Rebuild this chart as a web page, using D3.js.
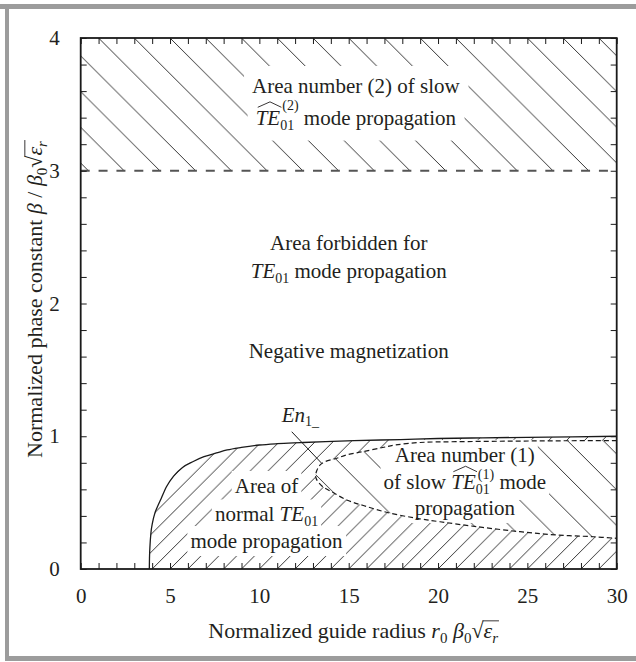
<!DOCTYPE html>
<html>
<head>
<meta charset="utf-8">
<script src="https://cdn.jsdelivr.net/npm/d3@7"></script>
<style>
  html, body { margin: 0; padding: 0; background: #fff; }
  svg { display: block; font-family: "Liberation Serif", "Times New Roman", serif; }
  svg text { fill: #231f20; white-space: pre; }
</style>
</head>
<body>
<svg id="chart" width="636" height="662"></svg>
<script>
// ---- data -------------------------------------------------------------
const xTickLabels = [0, 5, 10, 15, 20, 25, 30];
const yTickLabels = [0, 1, 2, 3, 4];

// cutoff curve of the normal TE01 mode (solid)
const cutoffX = [3.84, 3.85, 3.88, 3.93, 4.02, 4.15, 4.3, 4.5, 4.8, 5.2, 5.7, 6.3, 6.9, 7.6, 8.2, 9, 10, 11, 12.3, 13.7, 15.3, 17.9, 20, 22.5, 25, 27.5, 30];
const cutoffY = [0, 0.08, 0.18, 0.27, 0.35, 0.42, 0.47, 0.53, 0.62, 0.70, 0.765, 0.81, 0.846, 0.874, 0.897, 0.916, 0.934, 0.944, 0.952, 0.96, 0.967, 0.975, 0.983, 0.988, 0.992, 0.995, 1.0];

// boundary of slow-mode area (1): upper branch (right to left), lower branch (left to right)
const slowUpperX = [30, 27, 24, 21, 19, 17.6, 16.9, 15.8, 14.9, 14.33, 13.67, 13.39, 13.21, 13.15];
const slowUpperY = [0.967, 0.966, 0.963, 0.959, 0.953, 0.934, 0.915, 0.884, 0.86, 0.834, 0.808, 0.783, 0.74, 0.70];
const slowLowerX = [13.2, 13.5, 14.05, 14.89, 15.82, 17.22, 18.81, 20.11, 22.16, 24.59, 26.64, 28.69, 30];
const slowLowerY = [0.675, 0.625, 0.582, 0.52, 0.478, 0.424, 0.382, 0.356, 0.319, 0.281, 0.256, 0.243, 0.231];

// lower edge of slow-mode area (2) and top of the chart
const area2Bottom = 3;
const area2Top = 4;

// leader line for the En1 label
const enLeaderX = [11.81, 13.49];
const enLeaderY = [1.034, 0.796];

// ---- setup ------------------------------------------------------------
const FS = 21;
const svg = d3.select("#chart");
const x = d3.scaleLinear().domain([0, 30]).range([80.7, 616.7]);
const y = d3.scaleLinear().domain([0, 4]).range([569, 38]);

const defs = svg.append("defs");
defs.append("clipPath").attr("id", "plotClip")
  .append("rect")
  .attr("x", x(0)).attr("y", y(4))
  .attr("width", x(30) - x(0)).attr("height", y(0) - y(4));

// diagonal hatch patterns anchored on data points
function hatch(id, period, dir, ox, oy) {
  const P = period;
  const d = dir === "back"
    ? `M0,0L${P},${P}M${-P / 2},${P / 2}L${P / 2},${1.5 * P}M${P / 2},${-P / 2}L${1.5 * P},${P / 2}`
    : `M0,${P}L${P},0M${-P / 2},${P / 2}L${P / 2},${-P / 2}M${P / 2},${1.5 * P}L${1.5 * P},${P / 2}`;
  defs.append("pattern").attr("id", id)
    .attr("patternUnits", "userSpaceOnUse")
    .attr("x", ox).attr("y", oy)
    .attr("width", P).attr("height", P)
    .append("path").attr("d", d)
    .attr("fill", "none").attr("stroke", "#2a2a2a").attr("stroke-width", 0.95);
}
const unit = x(1) - x(0);
hatch("hatchNormal", unit, "fwd", x(0), y(0));
hatch("hatchSlow2", 2 * unit, "back", x(1), y(4));
hatch("hatchSlow1", 2 * unit, "back", x(1), y(1));

// ---- frame of the figure ---------------------------------------------
svg.append("rect").attr("x", 0).attr("y", 4).attr("width", 636).attr("height", 5).attr("fill", "#9c9c9c");
svg.append("rect").attr("x", 5).attr("y", 4).attr("width", 4).attr("height", 657).attr("fill", "#9c9c9c");
svg.append("rect").attr("x", 5).attr("y", 656).attr("width", 631).attr("height", 5).attr("fill", "#9c9c9c");

// ---- layers -----------------------------------------------------------
const regionLayer = svg.append("g").attr("clip-path", "url(#plotClip)");
const maskLayer = svg.append("g");
const curveLayer = svg.append("g").attr("clip-path", "url(#plotClip)");
const axisLayer = svg.append("g");
const textLayer = svg.append("g");

// ---- regions ----------------------------------------------------------
const cutoff = cutoffX.map((v, i) => [v, cutoffY[i]]);
const slowUpper = slowUpperX.map((v, i) => [v, slowUpperY[i]]);
const slowLower = slowLowerX.map((v, i) => [v, slowLowerY[i]]);
const slowLoop = slowUpper.concat(slowLower);

// slow-mode area (2)
regionLayer.append("rect")
  .attr("x", x(0)).attr("y", y(area2Top))
  .attr("width", x(30) - x(0)).attr("height", y(area2Bottom) - y(area2Top))
  .attr("fill", "url(#hatchSlow2)");

// normal TE01 area below the cutoff curve
const areaGen = d3.area().x(d => x(d[0])).y0(y(0)).y1(d => y(d[1])).curve(d3.curveMonotoneX);
regionLayer.append("path").datum(cutoff).attr("d", areaGen).attr("fill", "url(#hatchNormal)");

// slow-mode area (1)
const loopGen = d3.line().x(d => x(d[0])).y(d => y(d[1])).curve(d3.curveCatmullRom.alpha(0.5));
regionLayer.append("path").attr("d", loopGen(slowLoop) + "Z").attr("fill", "#fff");
regionLayer.append("path").attr("d", loopGen(slowLoop) + "Z").attr("fill", "url(#hatchSlow1)");

// ---- curves -----------------------------------------------------------
const lineGen = d3.line().x(d => x(d[0])).y(d => y(d[1])).curve(d3.curveMonotoneX);
curveLayer.append("path").datum(cutoff).attr("d", lineGen)
  .attr("fill", "none").attr("stroke", "#1a1a1a").attr("stroke-width", 1.3);
curveLayer.append("path").datum(slowLoop).attr("d", loopGen)
  .attr("fill", "none").attr("stroke", "#1a1a1a").attr("stroke-width", 1.2)
  .attr("stroke-dasharray", "5,3");
curveLayer.append("line")
  .attr("x1", x(0)).attr("x2", x(30)).attr("y1", y(area2Bottom)).attr("y2", y(area2Bottom))
  .attr("stroke", "#555").attr("stroke-width", 1.8).attr("stroke-dasharray", "9,8.87");

// ---- axes -------------------------------------------------------------
const xMinor = d3.range(0, 31, 1);
const yMinor = d3.range(0, 21, 1).map(v => v * 0.2);
function tickAxis(axis, tx, ty) {
  const g = axisLayer.append("g").attr("transform", `translate(${tx},${ty})`).call(axis);
  g.attr("font-family", null).attr("font-size", null);
  g.select(".domain").remove();
  g.selectAll(".tick line").attr("stroke", "#1a1a1a").attr("stroke-width", 1);
  g.selectAll(".tick text").style("font-size", FS + "px").attr("fill", "#231f20");
  return g;
}
tickAxis(d3.axisBottom(x).tickValues(xMinor).tickSize(-6).tickFormat(""), 0, y(0));
tickAxis(d3.axisTop(x).tickValues(xMinor).tickSize(-6).tickFormat(""), 0, y(4));
tickAxis(d3.axisLeft(y).tickValues(yMinor).tickSize(-6).tickFormat(""), x(0), 0);
tickAxis(d3.axisRight(y).tickValues(yMinor).tickSize(-6).tickFormat(""), x(30), 0);

tickAxis(d3.axisBottom(x).tickValues(xTickLabels).tickSize(0).tickPadding(19).tickFormat(d3.format("d")), 0, y(0));
tickAxis(d3.axisLeft(y).tickValues(yTickLabels).tickSize(0).tickPadding(21).tickFormat(d3.format("d")), x(0), 0);

axisLayer.append("rect")
  .attr("x", x(0)).attr("y", y(4))
  .attr("width", x(30) - x(0)).attr("height", y(0) - y(4))
  .attr("fill", "none").attr("stroke", "#1a1a1a").attr("stroke-width", 1.8);

// ---- rich text (italic, hats, stacked scripts, radical bar) ----------
function rich(parent, parts, size) {
  const g = parent.append("g");
  const ss = Math.round(size * 0.68);
  let cx = 0, barFrom = null;
  for (const p of parts) {
    if (p.t != null) {
      const el = g.append("text").attr("x", cx).attr("y", 0)
        .style("font-size", size + "px")
        .style("font-style", p.it ? "italic" : "normal")
        .text(p.t);
      const w = el.node().getComputedTextLength();
      if (p.hat) {
        const h0 = -size * 0.84, h1 = -size * 1.1;
        g.append("path")
          .attr("d", `M${cx + size * 0.1},${h0}L${cx + w / 2 + size * 0.1},${h1}L${cx + w + size * 0.06},${h0}`)
          .attr("fill", "none").attr("stroke", "#231f20").attr("stroke-width", 0.9);
      }
      if (p.bar) barFrom = cx + w * 0.92;
      cx += w;
    } else {
      let w = 0;
      if (p.sub != null) {
        const el = g.append("text").attr("x", cx).attr("y", size * 0.22)
          .style("font-size", ss + "px").style("font-style", p.it ? "italic" : "normal").text(p.sub);
        w = Math.max(w, el.node().getComputedTextLength());
      }
      if (p.sup != null) {
        const dx = size * 0.1;
        const el = g.append("text").attr("x", cx + dx).attr("y", -size * (p.supY || 0.7))
          .style("font-size", ss + "px").text(p.sup);
        w = Math.max(w, el.node().getComputedTextLength() + dx);
      }
      cx += w;
    }
  }
  if (barFrom != null) {
    g.append("path").attr("d", `M${barFrom},${-size * 0.78}H${cx + 1}`)
      .attr("fill", "none").attr("stroke", "#231f20").attr("stroke-width", 0.9);
  }
  return { g, w: cx };
}

function place(lines, cxData, baseData, pad, anchor) {
  lines.forEach((parts, i) => {
    const { g, w } = rich(textLayer, parts, FS);
    const bx = x(cxData) - (anchor === "start" ? 0 : w / 2);
    const by = y(baseData[i]);
    g.attr("transform", `translate(${bx},${by})`);
    if (pad != null) {
      const bb = g.node().getBBox();
      maskLayer.append("rect")
        .attr("x", bx + bb.x - pad).attr("y", by + bb.y - pad)
        .attr("width", bb.width + 2 * pad).attr("height", bb.height + 2 * pad)
        .attr("fill", "#fff");
    }
  });
}

// ---- annotations ------------------------------------------------------
place([
  [{ t: "Area number (2) of slow" }],
  [{ t: "TE", it: true, hat: true }, { sub: "01", sup: "(2)" }, { t: " mode propagation" }]
], 15.4, [3.586, 3.345], 8);

place([
  [{ t: "Area forbidden for" }],
  [{ t: "TE", it: true }, { sub: "01" }, { t: " mode propagation" }]
], 15.0, [2.405, 2.19], null);

place([[{ t: "Negative magnetization" }]], 15.0, [1.587], null);

place([
  [{ t: "Area of" }],
  [{ t: "normal " }, { t: "TE", it: true }, { sub: "01" }],
  [{ t: "mode propagation" }]
], 10.4, [0.5725, 0.358, 0.158], 3);

place([
  [{ t: "Area number (1)" }],
  [{ t: "of slow " }, { t: "TE", it: true, hat: true }, { sub: "01", sup: "(1)", supY: 0.5 }, { t: " mode" }],
  [{ t: "propagation" }]
], 21.5, [0.808, 0.600, 0.407], 3);

place([[{ t: "En", it: true }, { sub: "1_" }]], 11.25, [1.11], 2, "start");

textLayer.append("path")
  .attr("d", d3.line()(enLeaderX.map((v, i) => [x(v), y(enLeaderY[i])])))
  .attr("fill", "none").attr("stroke", "#1a1a1a").attr("stroke-width", 1);

// ---- axis titles ------------------------------------------------------
const TS = 22;
{
  const { g, w } = rich(textLayer, [
    { t: "Normalized guide radius " },
    { t: "r", it: true }, { sub: "0" }, { t: " " },
    { t: "β", it: true }, { sub: "0" },
    { t: "√", bar: true }, { t: "ε", it: true }, { sub: "r", it: true }
  ], TS);
  g.attr("transform", `translate(${x(15.25) - w / 2},638)`);
}
{
  const { g, w } = rich(textLayer, [
    { t: "Normalized phase constant " },
    { t: "β", it: true }, { t: " / " },
    { t: "β", it: true }, { sub: "0" },
    { t: "√", bar: true }, { t: "ε", it: true }, { sub: "r", it: true }
  ], TS);
  g.attr("transform", `translate(42,${y(2) - 4}) rotate(-90) translate(${-w / 2},0)`);
}
</script>
</body>
</html>
